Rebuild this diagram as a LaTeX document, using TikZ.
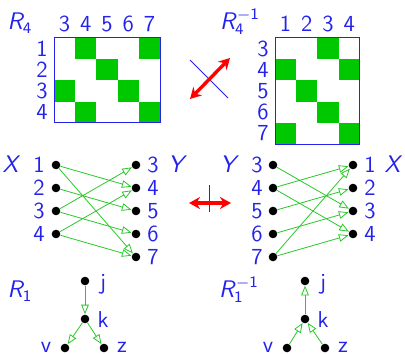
\documentclass[tikz,border=0pt]{standalone}
\usetikzlibrary{arrows.meta}
\DeclareMathAlphabet{\mathsfsl}{OT1}{cmss}{m}{sl}
\definecolor{relblue}{RGB}{35,35,235}
\definecolor{cellgreen}{RGB}{0,200,0}
\definecolor{edgegreen}{RGB}{40,200,40}

\begin{document}
\begin{tikzpicture}[x=0.5pt,y=-0.5pt]
\tikzset{
  lbl/.style={text=relblue,inner sep=0pt,font=\sffamily\fontsize{11.5}{13}\selectfont},
  dotnode/.style={circle,fill=black,inner sep=0pt,minimum size=4.3pt},
  relarrow/.style={draw=edgegreen,line width=0.4pt,-{Triangle[open,length=4.8pt,width=3.8pt]}},
  matbox/.style={draw=relblue,line width=0.5pt},
  cell/.style={fill=cellgreen},
  swaparrow/.style={draw=red,line width=1.7pt,{Stealth[length=5.5pt,width=6pt]}-{Stealth[length=5.5pt,width=6pt]}},
  cutline/.style={draw=relblue,line width=0.5pt}
}
\useasboundingbox (0,0) rectangle (405,353);
% matrix of R_4
\fill[cell] (75.2,38) rectangle (96.4,59.2);
\fill[cell] (138.8,38) rectangle (160,59.2);
\fill[cell] (96.4,59.2) rectangle (117.6,80.4);
\fill[cell] (54,80.4) rectangle (75.2,101.6);
\fill[cell] (117.6,80.4) rectangle (138.8,101.6);
\fill[cell] (75.2,101.6) rectangle (96.4,122.8);
\fill[cell] (138.8,101.6) rectangle (160,122.8);
\draw[matbox] (54,38) rectangle (160,122.8);
\node[lbl] (n_R4) at (20,23) {$\mathsfsl{R}_{\mathsf{4}}$};
\node[lbl] (n_c3) at (64.6,24) {3};
\node[lbl] (n_c4) at (85.8,24) {4};
\node[lbl] (n_c5) at (107.0,24) {5};
\node[lbl] (n_c6) at (128.2,24) {6};
\node[lbl] (n_c7) at (149.4,24) {7};
\node[lbl] (n_r1) at (42,48.6) {1};
\node[lbl] (n_r2) at (42,69.8) {2};
\node[lbl] (n_r3) at (42,91.0) {3};
\node[lbl] (n_r4) at (42,112.2) {4};
% matrix of the inverse
\fill[cell] (317.4,38) rectangle (338.6,59.2);
\fill[cell] (275,59.2) rectangle (296.2,80.4);
\fill[cell] (338.6,59.2) rectangle (359.8,80.4);
\fill[cell] (296.2,80.4) rectangle (317.4,101.6);
\fill[cell] (317.4,101.6) rectangle (338.6,122.8);
\fill[cell] (275,122.8) rectangle (296.2,144);
\fill[cell] (338.6,122.8) rectangle (359.8,144);
\draw[matbox] (275,38) rectangle (359.8,144);
\node[lbl] (n_R4inv) at (240,22) {$\mathsfsl{R}_{\mathsf{4}}^{-\mathsf{1}}$};
\node[lbl] (n_ic1) at (285.6,24) {1};
\node[lbl] (n_ic2) at (306.8,24) {2};
\node[lbl] (n_ic3) at (328.0,24) {3};
\node[lbl] (n_ic4) at (349.2,24) {4};
\node[lbl] (n_ir3) at (263,48.6) {3};
\node[lbl] (n_ir4) at (263,69.8) {4};
\node[lbl] (n_ir5) at (263,91.0) {5};
\node[lbl] (n_ir6) at (263,112.2) {6};
\node[lbl] (n_ir7) at (263,133.4) {7};
% swap between the matrices
\coordinate (s_a) at (190,99);
\coordinate (s_b) at (230,58);
\coordinate (s_c) at (190,60);
\coordinate (s_d) at (228,98);
\draw[cutline] (s_c) -- (s_d);
\draw[swaparrow] (s_a) -- (s_b);
% graph of R_4
\node[lbl] (n_X) at (12,164) {$\mathsfsl{X}$};
\node[lbl] (n_Y) at (178,164) {$\mathsfsl{Y}$};
\node[dotnode] (n_x1) at (56,165) {};
\node[dotnode] (n_x2) at (56,188) {};
\node[dotnode] (n_x3) at (56,211) {};
\node[dotnode] (n_x4) at (56,234) {};
\node[dotnode] (n_y3) at (136,165) {};
\node[dotnode] (n_y4) at (136,188) {};
\node[dotnode] (n_y5) at (136,211) {};
\node[dotnode] (n_y6) at (136,234) {};
\node[dotnode] (n_y7) at (136,257) {};
\node[lbl] (l_x1) at (39,165) {1};
\node[lbl] (l_x2) at (39,188) {2};
\node[lbl] (l_x3) at (39,211) {3};
\node[lbl] (l_x4) at (39,234) {4};
\node[lbl] (l_y3) at (153,165) {3};
\node[lbl] (l_y4) at (153,188) {4};
\node[lbl] (l_y5) at (153,211) {5};
\node[lbl] (l_y6) at (153,234) {6};
\node[lbl] (l_y7) at (153,257) {7};
\draw[relarrow] (n_x1) -- (n_y4);
\draw[relarrow] (n_x1) -- (n_y7);
\draw[relarrow] (n_x2) -- (n_y5);
\draw[relarrow] (n_x3) -- (n_y3);
\draw[relarrow] (n_x3) -- (n_y6);
\draw[relarrow] (n_x4) -- (n_y4);
\draw[relarrow] (n_x4) -- (n_y7);
% swap between the graphs
\coordinate (s_e) at (189,203);
\coordinate (s_f) at (231,203);
\coordinate (s_g) at (209,185);
\coordinate (s_h) at (209,212);
\draw[cutline] (s_g) -- (s_h);
\draw[swaparrow] (s_e) -- (s_f);
% graph of the inverse
\node[lbl] (n_Yi) at (230,164) {$\mathsfsl{Y}$};
\node[lbl] (n_Xi) at (394,164) {$\mathsfsl{X}$};
\node[dotnode] (n_iy3) at (273,165) {};
\node[dotnode] (n_iy4) at (273,188) {};
\node[dotnode] (n_iy5) at (273,211) {};
\node[dotnode] (n_iy6) at (273,234) {};
\node[dotnode] (n_iy7) at (273,257) {};
\node[dotnode] (n_ix1) at (353,165) {};
\node[dotnode] (n_ix2) at (353,188) {};
\node[dotnode] (n_ix3) at (353,211) {};
\node[dotnode] (n_ix4) at (353,234) {};
\node[lbl] (l_iy3) at (257,165) {3};
\node[lbl] (l_iy4) at (257,188) {4};
\node[lbl] (l_iy5) at (257,211) {5};
\node[lbl] (l_iy6) at (257,234) {6};
\node[lbl] (l_iy7) at (257,257) {7};
\node[lbl] (l_ix1) at (370,165) {1};
\node[lbl] (l_ix2) at (370,188) {2};
\node[lbl] (l_ix3) at (370,211) {3};
\node[lbl] (l_ix4) at (370,234) {4};
\draw[relarrow] (n_iy3) -- (n_ix3);
\draw[relarrow] (n_iy4) -- (n_ix1);
\draw[relarrow] (n_iy4) -- (n_ix4);
\draw[relarrow] (n_iy5) -- (n_ix2);
\draw[relarrow] (n_iy6) -- (n_ix3);
\draw[relarrow] (n_iy7) -- (n_ix1);
\draw[relarrow] (n_iy7) -- (n_ix4);
% tree of R_1
\node[lbl] (n_R1) at (20,291) {$\mathsfsl{R}_{\mathsf{1}}$};
\node[dotnode] (n_j) at (85,281) {};
\node[dotnode] (n_k) at (85,319) {};
\node[dotnode] (n_v) at (65,348) {};
\node[dotnode] (n_z) at (104,348) {};
\node[lbl] (l_j) at (103,284) {j};
\node[lbl] (l_k) at (103,320) {k};
\node[lbl] (l_v) at (46,347) {v};
\node[lbl] (l_z) at (122,347) {z};
\draw[relarrow] (n_j) -- (n_k);
\draw[relarrow] (n_k) -- (n_v);
\draw[relarrow] (n_k) -- (n_z);
% tree of the inverse
\node[lbl] (n_R1inv) at (239,290) {$\mathsfsl{R}_{\mathsf{1}}^{-\mathsf{1}}$};
\node[dotnode] (n_ij) at (305,281) {};
\node[dotnode] (n_ik) at (305,319) {};
\node[dotnode] (n_iv) at (287,348) {};
\node[dotnode] (n_iz) at (325,348) {};
\node[lbl] (l_ij) at (323,284) {j};
\node[lbl] (l_ik) at (323,320) {k};
\node[lbl] (l_iv) at (268,347) {v};
\node[lbl] (l_iz) at (343,347) {z};
\draw[relarrow] (n_ik) -- (n_ij);
\draw[relarrow] (n_iv) -- (n_ik);
\draw[relarrow] (n_iz) -- (n_ik);
\end{tikzpicture}
\end{document}
